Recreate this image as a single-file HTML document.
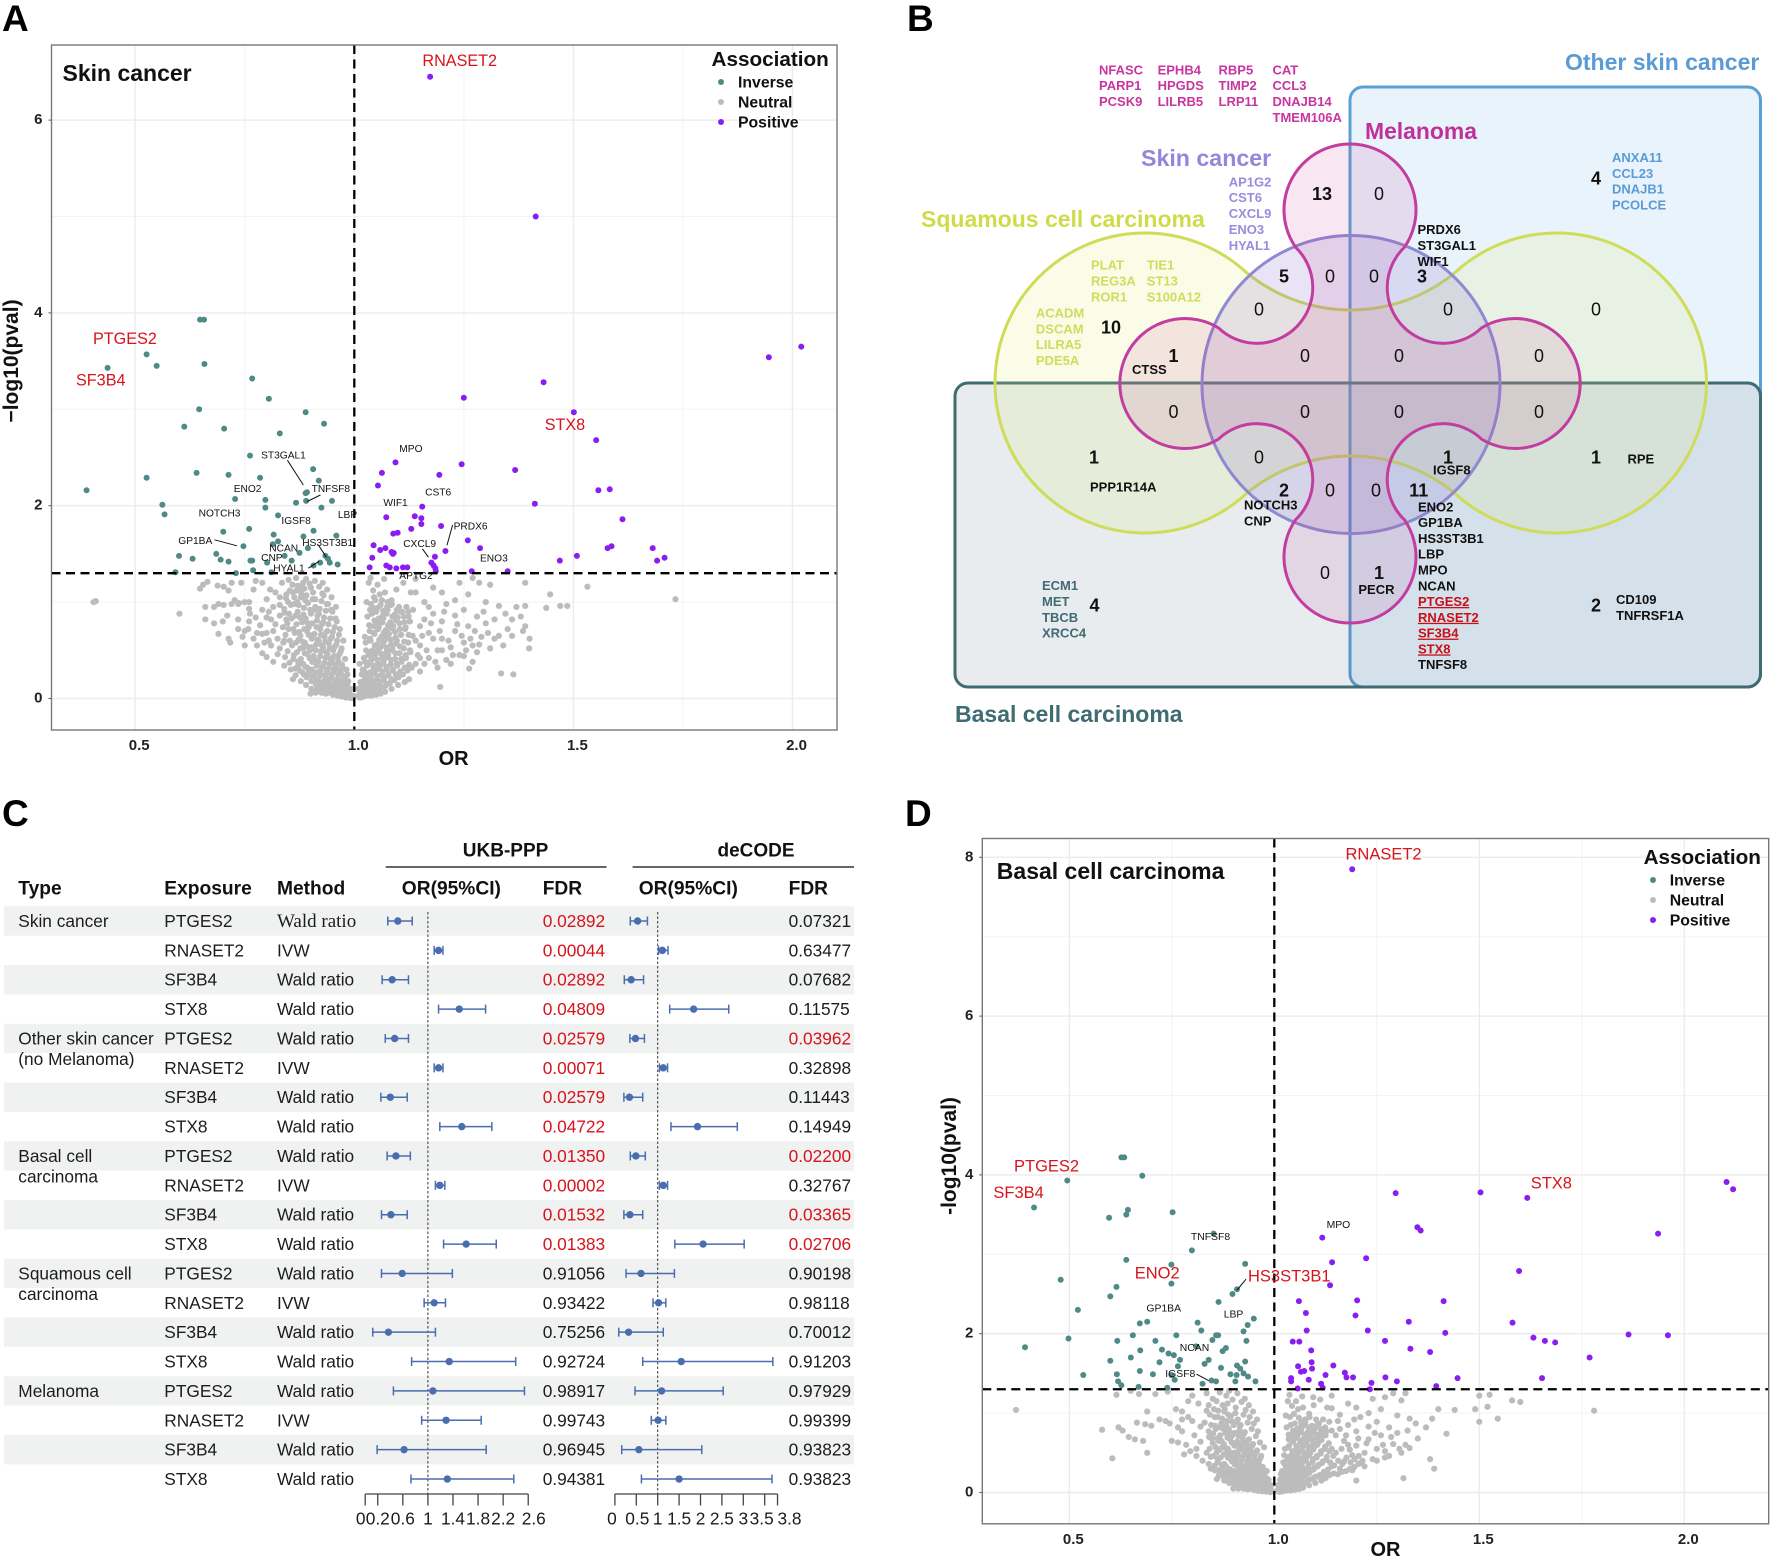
<!DOCTYPE html>
<html lang="en">
<head>
<meta charset="utf-8">
<title>Skin cancer proteome association figure</title>
<style>
html,body{margin:0;padding:0;background:#fff;}
svg{display:block;font-family:"Liberation Sans",Arial,sans-serif;}
</style>
</head>
<body>
<svg id="figure" xmlns="http://www.w3.org/2000/svg" width="1772" height="1559" viewBox="0 0 1772 1559">
<rect width="1772" height="1559" fill="#fff"/>

<g font-weight="700" font-size="37" fill="#000">
<text x="2" y="31">A</text>
<text x="907" y="31">B</text>
<text x="2" y="826">C</text>
<text x="905" y="826">D</text>
</g>

<!-- PANEL A -->
<g id="panel-a"></g>
<g>
<text x="62.5" y="81" font-size="23" font-weight="700" fill="#111">Skin cancer</text>
<g fill="#d8131b" font-size="16.2">
<text x="422.4" y="66">RNASET2</text>
<text x="93" y="344">PTGES2</text>
<text x="76" y="385.5">SF3B4</text>
<text x="544.7" y="430">STX8</text>
</g>
<g fill="#111" font-size="10.2">
<text x="261.1" y="458.7">ST3GAL1</text>
<text x="311.6" y="492">TNFSF8</text>
<text x="233.7" y="492">ENO2</text>
<text x="198.6" y="516.5">NOTCH3</text>
<text x="281.4" y="524">IGSF8</text>
<text x="337.9" y="518">LBP</text>
<text x="178.3" y="543.8">GP1BA</text>
<text x="302.2" y="545.8">HS3ST3B1</text>
<text x="269.3" y="551.3">NCAN</text>
<text x="261.1" y="561.2">CNP</text>
<text x="273.2" y="571.7">HYAL1</text>
<text x="399.3" y="451.8">MPO</text>
<text x="425.1" y="495.5">CST6</text>
<text x="383.4" y="506">WIF1</text>
<text x="453.6" y="529.4">PRDX6</text>
<text x="403.2" y="546.8">CXCL9</text>
<text x="480" y="561.7">ENO3</text>
<text x="399.3" y="579">APTG2</text>
</g>
<g stroke="#111" stroke-width="1">
<line x1="287.4" y1="460.2" x2="303.3" y2="485"/>
<line x1="320.4" y1="495" x2="307.2" y2="501.5"/>
<line x1="214.5" y1="539.8" x2="237" y2="545.8"/>
<line x1="318.2" y1="544.8" x2="326.4" y2="557.2"/>
<line x1="447" y1="545.3" x2="452.6" y2="525"/>
<line x1="422.4" y1="548.8" x2="428.4" y2="557.2"/>
<line x1="308.3" y1="568.2" x2="319.2" y2="561.2"/>
</g>
</g>

<!-- PANEL B -->
<g id="panel-b">
<rect x="1350" y="87" width="410.5" height="600" rx="13" fill="#e9f3fb" stroke="#5ca0d3" stroke-width="3"/>
<rect x="955" y="383" width="805.5" height="304" rx="13" fill="rgba(45,85,105,0.11)" stroke="#3f6b72" stroke-width="3"/>
<path d="M1247,273 A164,164 0 0 0 1454.5,273 A150,150 0 1 1 1454.5,493 A164,164 0 0 0 1247,493 A150,150 0 1 1 1247,273 Z" fill="rgba(222,235,110,0.16)" stroke="#cfdc5a" stroke-width="3"/>
<circle cx="1351" cy="384.5" r="149" fill="rgba(135,105,200,0.18)" stroke="#8f88d2" stroke-width="3"/>
<path d="M1295.5,247.2 A66,66 0 1 1 1404.5,247.2 A55,55 0 0 0 1481.5,327.9 A65,65 0 1 1 1481.5,439.1 A55,55 0 0 0 1404.5,519.8 A66,66 0 1 1 1295.5,519.8 A55,55 0 0 0 1218.5,439.1 A65,65 0 1 1 1218.5,327.9 A55,55 0 0 0 1295.5,247.2 Z" fill="rgba(200,60,150,0.12)" stroke="#c23d9f" stroke-width="3"/>

<g font-weight="700">
<text x="1565" y="70" font-size="23" fill="#5b9bd5">Other skin cancer</text>
<text x="1365" y="139" font-size="22.9" fill="#c0309a">Melanoma</text>
<text x="1141" y="166" font-size="23.2" fill="#9585dc">Skin cancer</text>
<text x="921" y="227" font-size="23" fill="#cfdc4a">Squamous cell carcinoma</text>
<text x="955" y="722" font-size="23" fill="#3f6b72">Basal cell carcinoma</text>
</g>

<g font-size="13" font-weight="700">
<g fill="#c8359f">
<text x="1099" y="74.5">NFASC</text><text x="1099" y="90.2">PARP1</text><text x="1099" y="106">PCSK9</text>
<text x="1157.6" y="74.5">EPHB4</text><text x="1157.6" y="90.2">HPGDS</text><text x="1157.6" y="106">LILRB5</text>
<text x="1218.5" y="74.5">RBP5</text><text x="1218.5" y="90.2">TIMP2</text><text x="1218.5" y="106">LRP11</text>
<text x="1272.5" y="74.5">CAT</text><text x="1272.5" y="90.2">CCL3</text><text x="1272.5" y="106">DNAJB14</text><text x="1272.5" y="121.8">TMEM106A</text>
</g>
<g fill="#9a8be0">
<text x="1228.7" y="186.4">AP1G2</text><text x="1228.7" y="202.2">CST6</text><text x="1228.7" y="218">CXCL9</text><text x="1228.7" y="233.8">ENO3</text><text x="1228.7" y="250">HYAL1</text>
</g>
<g fill="#cfdc5c">
<text x="1091" y="269.6">PLAT</text><text x="1091" y="285.5">REG3A</text><text x="1091" y="301.3">ROR1</text>
<text x="1146.8" y="269.6">TIE1</text><text x="1146.8" y="285.5">ST13</text><text x="1146.8" y="301.3">S100A12</text>
<text x="1035.9" y="317.5">ACADM</text><text x="1035.9" y="333.3">DSCAM</text><text x="1035.9" y="349.1">LILRA5</text><text x="1035.9" y="364.9">PDE5A</text>
</g>
<g fill="#5b9bd5">
<text x="1612" y="162">ANXA11</text><text x="1612" y="177.8">CCL23</text><text x="1612" y="193.6">DNAJB1</text><text x="1612" y="209.4">PCOLCE</text>
</g>
<g fill="#3f6b72">
<text x="1042" y="590.2">ECM1</text><text x="1042" y="606">MET</text><text x="1042" y="621.8">TBCB</text><text x="1042" y="637.6">XRCC4</text>
</g>
<g fill="#111">
<text x="1417.5" y="233.8">PRDX6</text><text x="1417.5" y="250">ST3GAL1</text><text x="1417.5" y="265.8">WIF1</text>
<text x="1132" y="374">CTSS</text>
<text x="1090" y="491.6">PPP1R14A</text>
<text x="1433" y="474.6">IGSF8</text>
<text x="1627.5" y="463.6">RPE</text>
<text x="1244" y="509.6">NOTCH3</text><text x="1244" y="525.6">CNP</text>
<text x="1358.4" y="594">PECR</text>
<text x="1616" y="604">CD109</text><text x="1616" y="620">TNFRSF1A</text>
<text x="1418" y="511.3">ENO2</text><text x="1418" y="527">GP1BA</text><text x="1418" y="542.9">HS3ST3B1</text><text x="1418" y="558.6">LBP</text><text x="1418" y="574.6">MPO</text><text x="1418" y="590.3">NCAN</text>
<text x="1418" y="669.2">TNFSF8</text>
</g>
<g fill="#c8101a" text-decoration="underline">
<text x="1418" y="606">PTGES2</text><text x="1418" y="621.8">RNASET2</text><text x="1418" y="637.6">SF3B4</text><text x="1418" y="653.4">STX8</text>
</g>
</g>

<g font-size="18" fill="#111" text-anchor="middle">
<g font-weight="700">
<text x="1111" y="333.5">10</text>
<text x="1596" y="184.5">4</text>
<text x="1322" y="200">13</text>
<text x="1284" y="282.5">5</text>
<text x="1422" y="282.5">3</text>
<text x="1173.5" y="362">1</text>
<text x="1094" y="463.5">1</text>
<text x="1448" y="463.5">1</text>
<text x="1596" y="463.5">1</text>
<text x="1284" y="496.5">2</text>
<text x="1418.7" y="496.5">11</text>
<text x="1379" y="579">1</text>
<text x="1094.5" y="611.5">4</text>
<text x="1596" y="611.5">2</text>
</g>
<g>
<text x="1379" y="200">0</text>
<text x="1330" y="282.5">0</text><text x="1374" y="282.5">0</text>
<text x="1259" y="315.5">0</text><text x="1448" y="315.5">0</text><text x="1596" y="315.5">0</text>
<text x="1305" y="362">0</text><text x="1399" y="362">0</text><text x="1539" y="362">0</text>
<text x="1173.5" y="418">0</text><text x="1305" y="418">0</text><text x="1399" y="418">0</text><text x="1539" y="418">0</text>
<text x="1259" y="463.5">0</text>
<text x="1330" y="496.5">0</text><text x="1376" y="496.5">0</text>
<text x="1325" y="579">0</text>
</g>
</g>
</g>

<!-- PANEL C -->
<g id="panel-c"></g>

<!-- PANEL D -->
<g id="panel-d"></g>
<g>
<text x="996.8" y="879" font-size="23" font-weight="700" fill="#111">Basal cell carcinoma</text>
<g fill="#d8131b" font-size="16.5">
<text x="1345.5" y="859.6">RNASET2</text>
<text x="1014" y="1171.4">PTGES2</text>
<text x="993.4" y="1198">SF3B4</text>
<text x="1530.7" y="1188.5">STX8</text>
<text x="1134.7" y="1278.3">ENO2</text>
<text x="1248" y="1281.7">HS3ST3B1</text>
</g>
<g fill="#111" font-size="10.4">
<text x="1326.6" y="1227.9">MPO</text>
<text x="1190.9" y="1240.2">TNFSF8</text>
<text x="1146.4" y="1311.6">GP1BA</text>
<text x="1223.7" y="1317.6">LBP</text>
<text x="1179.8" y="1351">NCAN</text>
<text x="1165.3" y="1376.9">IGSF8</text>
</g>
<g stroke="#111" stroke-width="1">
<line x1="1237" y1="1290" x2="1246" y2="1279.2"/>
<line x1="1196.4" y1="1374.1" x2="1208.7" y2="1380.7"/>
</g>
</g>
</svg>

<script>
/* ---------- Panel A data: [OR, -log10(p)] ---------- */
const inverseA = [[.437,3.43],[.526,3.57],[.549,3.45],[.648,3.93],[.657,3.93],[.658,3.47],[.767,3.32],[.805,3.11],[.646,3.0],[.612,2.82],[.703,2.8],[.889,2.97],[.931,2.85],[.83,2.75],[.762,2.52],[.64,2.34],[.526,2.29],[.713,2.32],[.785,2.29],[.906,2.38],[.919,2.26],[.389,2.16],[.889,2.13],[.892,2.14],[.728,2.07],[.797,2.06],[.797,1.98],[.89,2.05],[.867,2.03],[.925,1.98],[.949,2.05],[.562,2.01],[.567,1.91],[.826,1.9],[.76,1.76],[.701,1.73],[.907,1.74],[.959,1.69],[.816,1.7],[.884,1.68],[.826,1.63],[.814,1.6],[.747,1.58],[.894,1.56],[.6,1.48],[.685,1.5],[.631,1.45],[.695,1.44],[.713,1.42],[.763,1.43],[.767,1.43],[.801,1.41],[.841,1.48],[.875,1.51],[.857,1.43],[.934,1.48],[.94,1.45],[.944,1.41],[.962,1.39],[.922,1.41],[.907,1.38],[.769,1.33],[.73,1.3],[.592,1.31],[.811,1.31]];
const positiveA = [[1.173,6.45],[1.414,5.0],[2.02,3.65],[1.946,3.54],[1.432,3.28],[1.25,3.12],[1.501,2.97],[1.552,2.68],[1.094,2.45],[1.245,2.43],[1.367,2.37],[1.194,2.32],[1.063,2.34],[1.054,2.21],[1.557,2.16],[1.583,2.17],[1.412,2.02],[1.155,1.99],[1.073,1.88],[1.138,1.89],[1.153,1.87],[1.153,1.81],[1.612,1.86],[1.198,1.79],[1.13,1.76],[1.099,1.72],[1.089,1.71],[1.259,1.64],[1.044,1.59],[1.059,1.54],[1.071,1.56],[1.085,1.52],[1.09,1.51],[1.088,1.5],[1.287,1.56],[1.208,1.53],[1.184,1.47],[1.041,1.46],[1.578,1.56],[1.587,1.58],[1.681,1.56],[1.708,1.46],[1.691,1.43],[1.508,1.48],[1.469,1.43],[1.035,1.36],[1.073,1.38],[1.081,1.36],[1.096,1.35],[1.111,1.36],[1.121,1.36],[1.176,1.41],[1.181,1.38],[1.185,1.35],[1.186,1.32],[1.268,1.32],[1.35,1.32]];
const neutralA = [[.405,1],[.41,1.01],[.601,.88],[1.733,1.03],[1.532,1.16],[1.447,1.08],[1.486,.96],[1.47,.96],[1.438,.94],[1.399,.52],[1.335,.26],[1.363,.25],[1.196,.12],[1.262,.31],
[.648,1.14],[.655,1.18],[.665,1.21],[.688,1.17],[.702,1.16],[.713,1.12],[.69,.98],[.702,.97],[.72,.98],[.735,.98],[.737,.99],[.68,.95],[.66,.82],[.7,.8],[.735,.82],[.69,.67],[.713,.62],[.717,.58],[.75,.55],[.75,.7],[.76,.93],[.762,.88],[.775,.84],[.76,.8],[.758,.72],[.778,.68],[.79,.67],[.8,.68],[.778,.55],[.79,.47],[.8,.43],[.815,.38],[.775,1.22],[.79,1.2],[.808,1.13],[.82,1.1],[.835,1.2],[.85,1.23],[.79,.92],[.805,.9],[.8,.84],[.83,.86],[.82,.77],[.815,.7],[.84,.93],[.855,.97],[.87,1.0],[.85,.72],[.84,.6],[.83,.52],[.81,.55],[.805,.6],[.825,.46],[.84,.34],[.855,.3],[.866,.24],[.727,1.02],[.745,.64],[.77,1.13],[.742,1.2],[.83,.97],[.845,.82],[.86,1.1],
[.861,.41],[.858,.55],[.864,.68],[.857,.83],[.863,1.05],[.859,1.18],[.872,.34],[.869,.48],[.873,.61],[.868,.77],[.871,.9],[.874,1.13],[.867,1.25],[.882,.27],[.878,.41],[.884,.53],[.877,.65],[.881,.79],[.885,.94],[.879,1.09],[.883,1.2],[.891,.22],[.888,.33],[.893,.46],[.887,.58],[.892,.7],[.889,.83],[.894,.99],[.886,1.14],[.89,1.24],[.902,.18],[.897,.28],[.904,.38],[.899,.5],[.903,.62],[.896,.74],[.901,.88],[.905,1.03],[.898,1.19],[.912,.15],[.908,.24],[.914,.34],[.907,.44],[.913,.56],[.909,.67],[.915,.81],[.911,.95],[.906,1.1],[.91,1.22],[.921,.11],[.918,.2],[.923,.29],[.917,.39],[.924,.49],[.919,.6],[.922,.72],[.916,.86],[.925,1.01],[.92,1.16],[.931,.09],[.928,.16],[.933,.24],[.927,.33],[.934,.42],[.929,.53],[.932,.64],[.926,.77],[.935,.91],[.93,1.07],[.928,1.2],[.941,.06],[.938,.13],[.943,.2],[.937,.27],[.944,.36],[.939,.46],[.942,.57],[.936,.69],[.945,.83],[.94,.98],[.938,1.13],[.951,.04],[.948,.09],[.953,.15],[.947,.22],[.954,.3],[.949,.39],[.952,.5],[.946,.62],[.955,.74],[.95,.9],[.948,1.05],[.961,.03],[.958,.07],[.963,.12],[.957,.18],[.964,.25],[.959,.33],[.962,.42],[.956,.54],[.965,.66],[.96,.8],[.958,.95],[.971,.02],[.968,.05],[.973,.09],[.967,.14],[.974,.19],[.969,.26],[.972,.35],[.966,.46],[.975,.6],[.981,.01],[.978,.03],[.983,.06],[.977,.1],[.984,.15],[.979,.21],[.982,.3],[.991,.005],[.988,.015],[.993,.03],[.987,.06],[.992,.1],
[.915,.1],[.902,.1],[.89,.14],[.878,.18],[.965,.05],[.945,.1],[.925,.06],[.955,.06],[.935,.05],[.912,.06],[.9,.05],[.86,.2],
[.842,.43],[.838,.58],[.843,.66],[.837,.74],[.841,.89],[.844,1.04],[.852,.37],[.848,.49],[.853,.6],[.847,.78],[.851,.88],[.849,1.0],[.853,1.12],[.865,.31],[.862,.45],[.867,.58],[.861,.72],[.866,.86],[.863,.98],[.868,1.12],[.875,.29],[.872,.38],[.877,.52],[.874,.69],[.876,.84],[.873,.97],[.878,1.05],[.871,1.17],[.885,.25],[.883,.36],[.887,.47],[.882,.59],[.886,.72],[.884,.87],[.888,1.02],[.881,1.16],[.895,.24],[.893,.32],[.898,.42],[.892,.54],[.896,.66],[.894,.78],[.899,.92],[.891,1.07],[.905,.2],[.903,.3],[.908,.41],[.902,.53],[.906,.66],[.904,.78],[.909,.92],[.901,1.15],[.915,.18],[.913,.27],[.918,.38],[.912,.5],[.916,.61],[.914,.74],[.919,.88],[.911,1.03],[.925,.14],[.923,.24],[.928,.33],[.922,.44],[.926,.55],[.924,.66],[.929,.79],[.921,.93],[.927,1.09],[.935,.12],[.933,.19],[.938,.29],[.932,.37],[.936,.48],[.934,.59],[.939,.7],[.931,.84],[.937,.98],[.945,.08],[.943,.16],[.948,.24],[.942,.32],[.946,.41],[.944,.52],[.949,.64],[.941,.77],[.947,.92],[.955,.05],[.953,.12],[.958,.19],[.952,.27],[.956,.35],[.954,.44],[.959,.56],[.951,.69],[.957,.83],[.965,.04],[.963,.09],[.968,.15],[.962,.21],[.966,.29],[.964,.38],[.969,.49],[.961,.6],[.967,.72],[.975,.03],[.973,.07],[.978,.12],[.972,.17],[.976,.23],[.974,.31],[.979,.41],[.971,.52],[.985,.02],[.983,.05],[.988,.08],[.982,.13],[.986,.18],[.984,.25],[.995,.005],[.994,.01],[.996,.03],
[1.012,.01],[1.008,.03],[1.014,.06],[1.009,.1],[1.021,.02],[1.018,.05],[1.023,.09],[1.017,.14],[1.024,.2],[1.019,.3],[1.022,.42],[1.031,.03],[1.028,.07],[1.033,.12],[1.027,.18],[1.034,.25],[1.029,.34],[1.032,.45],[1.026,.58],[1.035,.7],[1.03,.85],[1.028,1.0],[1.033,1.2],[1.041,.05],[1.038,.1],[1.043,.16],[1.037,.23],[1.044,.31],[1.039,.4],[1.042,.5],[1.036,.62],[1.045,.75],[1.04,.88],[1.038,.98],[1.043,1.12],[1.037,1.25],[1.051,.07],[1.048,.13],[1.053,.2],[1.047,.28],[1.054,.36],[1.049,.46],[1.052,.56],[1.046,.67],[1.055,.78],[1.05,.9],[1.048,1.02],[1.053,1.18],[1.061,.1],[1.058,.17],[1.063,.25],[1.057,.33],[1.064,.43],[1.059,.53],[1.062,.64],[1.056,.74],[1.065,.86],[1.06,.97],[1.058,1.08],[1.071,.13],[1.068,.21],[1.073,.3],[1.067,.39],[1.074,.49],[1.069,.6],[1.072,.71],[1.066,.83],[1.075,.95],[1.07,1.1],[1.068,1.24],[1.081,.16],[1.078,.25],[1.083,.35],[1.077,.45],[1.084,.56],[1.079,.67],[1.082,.79],[1.076,.92],[1.085,1.02],[1.091,.19],[1.088,.3],[1.093,.41],[1.087,.52],[1.094,.63],[1.089,.75],[1.092,.87],[1.086,.98],[1.101,.22],[1.098,.34],[1.103,.47],[1.097,.6],[1.104,.72],[1.099,.84],[1.102,.95],[1.096,1.13],[1.111,.25],[1.108,.38],[1.113,.52],[1.107,.66],[1.114,.79],[1.109,.9],[1.112,1.2],[1.121,.29],[1.118,.42],[1.123,.58],[1.117,.74],[1.124,.85],[1.119,.95],[1.131,.32],[1.128,.48],[1.133,.65],[1.127,.8],[1.134,.92],[1.129,1.1],
[1.015,.01],[1.03,.05],[1.05,.04],[1.07,.07],[1.085,.1],[1.1,.14],[1.06,.05],[1.04,.03],[1.115,.17],[1.125,.2],
[1.015,.04],[1.013,.08],[1.016,.12],[1.014,.17],[1.017,.25],[1.012,.36],[1.025,.05],[1.027,.1],[1.024,.15],[1.026,.22],[1.023,.28],[1.025,.38],[1.027,.5],[1.024,.64],[1.035,.06],[1.037,.14],[1.034,.2],[1.036,.27],[1.033,.37],[1.035,.48],[1.037,.6],[1.034,.76],[1.036,.92],[1.045,.08],[1.047,.13],[1.044,.19],[1.046,.26],[1.043,.34],[1.045,.44],[1.047,.55],[1.044,.68],[1.046,.81],[1.043,.94],[1.045,1.05],[1.055,.1],[1.057,.16],[1.054,.23],[1.056,.31],[1.053,.4],[1.055,.5],[1.057,.61],[1.054,.72],[1.056,.83],[1.053,.94],[1.065,.12],[1.067,.19],[1.064,.28],[1.066,.36],[1.063,.46],[1.065,.56],[1.067,.68],[1.064,.79],[1.066,.91],[1.063,1.02],[1.075,.15],[1.077,.24],[1.074,.33],[1.076,.43],[1.073,.53],[1.075,.64],[1.077,.76],[1.074,.88],[1.076,1.0],[1.085,.2],[1.087,.29],[1.084,.4],[1.086,.5],[1.083,.61],[1.085,.73],[1.087,.85],[1.084,.97],[1.095,.25],[1.097,.36],[1.094,.47],[1.096,.57],[1.093,.69],[1.095,.81],[1.097,.92],[1.105,.28],[1.107,.41],[1.104,.54],[1.106,.66],[1.103,.78],[1.105,.9],[1.115,.32],[1.117,.45],[1.114,.59],[1.116,.72],[1.113,.85],[1.125,.35],[1.127,.5],[1.124,.66],[1.126,.8],[1.123,.9],
[1.145,.45],[1.155,.65],[1.165,.5],[1.175,.78],[1.185,.38],[1.195,.7],[1.205,.9],[1.215,.6],[1.225,.45],[1.235,.77],[1.245,.65],[1.255,.5],[1.265,.62],[1.275,.7],[1.285,.56],[1.295,.9],[1.305,.68],[1.32,.82],[1.34,.55],[1.36,.65],[1.38,.85],[1.17,.95],[1.2,.5],[1.15,.42],[.76,1.0],[.77,.62],[.785,.76],[.795,.58],[.81,.82],[.825,.62],[.735,.72],[.72,1.2],[.71,.86],[.68,.78],[.66,.95],[.83,1.05],[.75,1.0],[.8,1.03],[.815,.95],[.845,1.08],
[1.14,.36],[1.15,.55],[1.15,.75],[1.16,1.0],[1.17,.42],[1.17,.68],[1.18,.88],[1.18,1.15],[1.19,.5],[1.2,.62],[1.2,.8],[1.21,.98],[1.21,.4],[1.22,.53],[1.23,.7],[1.23,.86],[1.24,.45],[1.24,1.2],[1.25,.58],[1.25,.92],[1.26,.75],[1.27,.55],[1.27,.38],[1.28,.85],[1.29,.64],[1.3,1.0],[1.3,.78],[1.31,.52],[1.33,.96],[1.33,.65],[1.35,.72],[1.36,.82],[1.37,.95],[1.385,.7],[1.39,.75],[1.39,.96],[1.4,.62],[1.27,1.25],[1.285,1.2],[1.39,1.2],[1.15,.28],[1.16,.36],[1.19,.32],[1.22,.36],[1.18,.62],[1.14,.6],[1.16,.82],[1.14,1.1],[1.25,.44],[1.28,.48],[1.32,.62],[1.14,1.24],[1.2,1.1],[1.23,1.02],[1.26,1.08],[1.31,1.18],[1.345,.88]];

/* ---------- Panel D data: [OR, -log10(p)] ---------- */
const inverseD = [[.495,3.93],[.414,3.59],[.627,4.22],[.634,4.22],[.678,3.99],[.597,3.46],[.643,3.56],[.639,3.5],[.752,3.53],[.852,3.26],[.799,3.05],[.639,2.93],[.749,2.87],[.929,2.88],[.479,2.68],[.615,2.59],[.749,2.63],[.6,2.47],[.909,2.56],[.898,2.5],[.864,2.4],[.521,2.3],[.95,2.19],[.672,2.13],[.69,2.15],[.813,2.14],[.935,2.11],[.822,2.04],[.925,2.03],[.655,1.98],[.761,1.98],[.858,1.98],[.863,1.98],[.498,1.94],[.617,1.91],[.71,1.91],[.849,1.92],[.932,1.91],[.392,1.83],[.673,1.79],[.726,1.8],[.742,1.75],[.755,1.73],[.882,1.82],[.874,1.78],[.809,1.84],[.65,1.7],[.6,1.66],[.77,1.67],[.84,1.67],[.83,1.62],[.72,1.64],[.929,1.65],[.87,1.57],[.909,1.6],[.917,1.56],[.765,1.59],[.534,1.48],[.616,1.49],[.672,1.53],[.704,1.49],[.749,1.48],[.757,1.42],[.893,1.49],[.908,1.48],[.925,1.5],[.936,1.46],[.954,1.4],[.905,1.4],[.858,1.4],[.847,1.41],[.825,1.37],[.619,1.4],[.627,1.35],[.669,1.33],[.739,1.32]];
const positiveD = [[1.19,7.85],[2.103,3.91],[2.119,3.82],[1.296,3.77],[1.503,3.78],[1.617,3.71],[1.349,3.34],[1.357,3.3],[1.936,3.26],[1.117,3.21],[1.224,2.95],[1.141,2.9],[1.597,2.79],[1.136,2.61],[1.06,2.41],[1.202,2.42],[1.413,2.41],[1.077,2.26],[1.198,2.23],[1.328,2.15],[1.581,2.14],[1.079,2.04],[1.228,2.04],[1.417,2.01],[1.864,1.99],[1.96,1.98],[1.632,1.95],[1.66,1.91],[1.685,1.89],[1.045,1.9],[1.061,1.9],[1.27,1.91],[1.09,1.79],[1.332,1.81],[1.38,1.77],[1.769,1.7],[1.091,1.64],[1.058,1.59],[1.092,1.56],[1.073,1.53],[1.065,1.52],[1.144,1.6],[1.172,1.51],[1.125,1.48],[1.176,1.45],[1.192,1.45],[1.271,1.45],[1.447,1.44],[1.653,1.44],[1.041,1.44],[1.041,1.4],[1.084,1.42],[1.237,1.38],[1.299,1.4],[1.395,1.34],[1.114,1.37],[1.118,1.32],[1.057,1.31],[1.233,1.3]];
const neutralD = [[.37,1.04],[.58,.79],[.605,.43],[1.78,1.03],[1.545,.93],[1.52,1.08],[1.5,1.22],[1.525,1.23],[1.58,1.16],[1.6,1.14],[1.5,.89],[1.49,1.05],[1.44,1.04],[1.4,1.05],[1.42,.74],[1.39,.3],[1.38,.42],[1.315,.18],[1.2,.15],
[.615,1.23],[.65,1.28],[.67,1.24],[.71,1.24],[.74,1.27],[.62,.82],[.63,.78],[.645,.7],[.66,.67],[.68,.65],[.69,.5],[.665,.88],[.685,.86],[.7,.84],[.69,1.02],[.72,.92],[.735,.9],[.745,.87],[.75,.65],[.765,.63],[.76,1.05],[.775,1.02],[.79,.95],[.8,.9],[.775,.77],[.765,.82],[.785,.6],[.78,.48],[.795,.52],[.81,.46],[.82,.64],[.805,.72],[.82,.83],[.83,.88],[.84,.77],[.79,1.15],[.8,1.22],[.815,1.12],[.835,1.25],[.85,1.18],[.835,1.03],[.855,.95],[.85,.62],[.835,.5],[.84,.36],[.825,.4],[.855,.28],[.845,.3],[.81,.55],[.865,.22],[.875,.2],[.775,.92],[.84,1.1],
[.862,.38],[.859,.5],[.864,.65],[.857,.8],[.863,1.03],[.859,1.15],[.872,.3],[.869,.44],[.873,.57],[.868,.72],[.871,.87],[.874,1.1],[.867,1.26],[.882,.24],[.878,.36],[.884,.49],[.877,.61],[.881,.75],[.885,.9],[.879,1.05],[.883,1.22],[.891,.19],[.888,.3],[.893,.42],[.887,.55],[.892,.67],[.889,.8],[.894,.96],[.886,1.12],[.89,1.28],[.902,.16],[.897,.25],[.904,.35],[.899,.47],[.903,.59],[.896,.71],[.901,.85],[.905,1.0],[.898,1.17],[.912,.12],[.908,.21],[.914,.31],[.907,.42],[.913,.53],[.909,.64],[.915,.78],[.911,.92],[.906,1.07],[.91,1.25],[.921,.09],[.918,.18],[.923,.27],[.917,.36],[.924,.46],[.919,.57],[.922,.69],[.916,.83],[.925,.98],[.92,1.14],[.931,.07],[.928,.14],[.933,.21],[.927,.3],[.934,.39],[.929,.5],[.932,.61],[.926,.74],[.935,.88],[.93,1.04],[.928,1.18],[.941,.05],[.938,.11],[.943,.18],[.937,.25],[.944,.33],[.939,.43],[.942,.54],[.936,.66],[.945,.8],[.94,.95],[.938,1.1],[.951,.03],[.948,.08],[.953,.13],[.947,.2],[.954,.27],[.949,.36],[.952,.47],[.946,.59],[.955,.71],[.95,.87],[.948,1.02],[.961,.02],[.958,.06],[.963,.1],[.957,.16],[.964,.22],[.959,.3],[.962,.39],[.956,.51],[.965,.63],[.96,.77],[.958,.92],[.971,.015],[.968,.04],[.973,.08],[.967,.12],[.974,.17],[.969,.24],[.972,.32],[.966,.43],[.975,.57],[.981,.01],[.978,.025],[.983,.05],[.977,.09],[.984,.13],[.979,.19],[.982,.27],[.991,.004],[.988,.012],[.993,.025],[.987,.05],[.992,.09],
[.915,.08],[.902,.09],[.89,.12],[.878,.15],[.965,.04],[.945,.08],[.925,.05],[.955,.05],[.935,.04],[.912,.05],[.9,.05],[.86,.17],
[.845,.45],[.842,.55],[.847,.68],[.841,.7],[.846,.85],[.843,.98],[.855,.34],[.852,.46],[.857,.57],[.851,.74],[.856,.84],[.853,1.05],[.865,.28],[.862,.42],[.867,.54],[.861,.68],[.866,.82],[.863,.95],[.875,.26],[.872,.35],[.877,.48],[.871,.65],[.876,.8],[.873,.93],[.878,1.02],[.885,.22],[.882,.33],[.887,.44],[.881,.56],[.886,.69],[.883,.84],[.888,.98],[.895,.21],[.892,.29],[.897,.39],[.891,.51],[.896,.63],[.893,.75],[.898,.89],[.905,.18],[.902,.27],[.907,.38],[.901,.5],[.906,.62],[.903,.75],[.908,.89],[.915,.15],[.912,.24],[.917,.35],[.911,.47],[.916,.58],[.913,.71],[.918,.85],[.925,.12],[.922,.21],[.927,.3],[.921,.41],[.926,.52],[.923,.63],[.928,.76],[.935,.1],[.932,.17],[.937,.26],[.931,.34],[.936,.45],[.933,.56],[.938,.67],[.945,.07],[.942,.14],[.947,.21],[.941,.29],[.946,.38],[.943,.49],[.948,.61],[.955,.04],[.952,.1],[.957,.17],[.951,.24],[.956,.32],[.953,.41],[.958,.53],[.965,.03],[.962,.08],[.967,.13],[.961,.19],[.966,.26],[.963,.35],[.968,.46],[.975,.02],[.972,.06],[.977,.1],[.971,.15],[.976,.21],[.973,.28],[.985,.015],[.983,.04],[.987,.07],[.982,.11],[.986,.16],
[1.012,.008],[1.008,.025],[1.014,.05],[1.009,.09],[1.021,.015],[1.018,.04],[1.023,.08],[1.017,.12],[1.024,.18],[1.019,.27],[1.022,.38],[1.031,.025],[1.028,.06],[1.033,.1],[1.027,.16],[1.034,.23],[1.029,.31],[1.032,.42],[1.026,.55],[1.035,.67],[1.03,.82],[1.028,.97],[1.033,1.15],[1.041,.04],[1.038,.09],[1.043,.14],[1.037,.21],[1.044,.29],[1.039,.37],[1.042,.47],[1.036,.59],[1.045,.72],[1.04,.85],[1.038,.95],[1.043,1.09],[1.037,1.23],[1.051,.06],[1.048,.11],[1.053,.18],[1.047,.26],[1.054,.33],[1.049,.43],[1.052,.53],[1.046,.64],[1.055,.75],[1.05,.87],[1.048,.99],[1.053,1.15],[1.061,.08],[1.058,.15],[1.063,.23],[1.057,.3],[1.064,.4],[1.059,.5],[1.062,.61],[1.056,.71],[1.065,.83],[1.06,.94],[1.058,1.05],[1.071,.11],[1.068,.19],[1.073,.27],[1.067,.36],[1.074,.46],[1.069,.57],[1.072,.68],[1.066,.8],[1.075,.92],[1.07,1.07],[1.068,1.21],[1.081,.14],[1.078,.22],[1.083,.32],[1.077,.42],[1.084,.53],[1.079,.64],[1.082,.76],[1.076,.89],[1.085,.99],[1.091,.17],[1.088,.27],[1.093,.38],[1.087,.49],[1.094,.6],[1.089,.72],[1.092,.84],[1.086,.95],[1.095,1.2],[1.101,.2],[1.098,.31],[1.103,.44],[1.097,.57],[1.104,.69],[1.099,.81],[1.102,.92],[1.096,1.1],[1.111,.22],[1.108,.35],[1.113,.49],[1.107,.63],[1.114,.76],[1.109,.87],[1.112,1.17],[1.121,.26],[1.118,.39],[1.123,.55],[1.117,.71],[1.124,.82],[1.119,.92],[1.131,.29],[1.128,.45],[1.133,.62],[1.127,.77],[1.134,.89],[1.129,1.07],
[1.015,.012],[1.03,.045],[1.05,.035],[1.07,.06],[1.085,.09],[1.1,.12],[1.06,.045],[1.04,.025],[1.115,.15],[1.125,.18],
[1.016,.03],[1.013,.07],[1.015,.11],[1.014,.16],[1.016,.23],[1.025,.04],[1.026,.09],[1.024,.13],[1.025,.2],[1.023,.26],[1.026,.35],[1.024,.47],[1.035,.05],[1.036,.12],[1.034,.18],[1.035,.25],[1.033,.34],[1.036,.45],[1.034,.57],[1.035,.73],[1.045,.07],[1.046,.12],[1.044,.17],[1.045,.24],[1.043,.31],[1.046,.41],[1.044,.52],[1.045,.65],[1.046,.78],[1.055,.09],[1.056,.14],[1.054,.21],[1.055,.29],[1.053,.37],[1.056,.47],[1.054,.58],[1.055,.69],[1.056,.8],[1.065,.1],[1.066,.17],[1.064,.25],[1.065,.33],[1.063,.43],[1.066,.53],[1.064,.65],[1.065,.76],[1.066,.88],[1.075,.13],[1.076,.21],[1.074,.3],[1.075,.4],[1.073,.5],[1.076,.61],[1.074,.73],[1.075,.85],[1.085,.16],[1.086,.25],[1.084,.36],[1.085,.47],[1.083,.58],[1.086,.7],[1.084,.82],[1.095,.18],[1.096,.29],[1.094,.42],[1.095,.54],[1.093,.66],[1.096,.78],[1.105,.2],[1.106,.33],[1.104,.46],[1.105,.6],[1.103,.73],[1.106,.86],[1.115,.22],[1.116,.37],[1.114,.52],[1.115,.66],[1.113,.8],[1.125,.24],[1.126,.41],[1.124,.58],[1.125,.72],[1.135,.22],[1.136,.38],[1.134,.52],[1.145,.24],[1.146,.34],[1.144,.46],[1.155,.23],[1.156,.4],[1.165,.26],[1.166,.36],[1.164,.55],[1.175,.27],[1.176,.44],[1.185,.3],[1.186,.38],[1.184,.54],[1.195,.32],[1.196,.42],[1.205,.36],[1.206,.46],[1.215,.4],
[1.14,.33],[1.15,.5],[1.15,.72],[1.16,.98],[1.17,.39],[1.17,.65],[1.18,.85],[1.18,1.12],[1.19,.47],[1.2,.59],[1.2,.77],[1.21,.95],[1.21,.37],[1.22,.5],[1.23,.67],[1.23,.83],[1.24,.42],[1.24,1.18],[1.25,.55],[1.25,.89],[1.26,.72],[1.27,.52],[1.27,.44],[1.28,.82],[1.29,.61],[1.3,.97],[1.3,.75],[1.31,.5],[1.33,.93],[1.33,.56],[1.35,.68],[1.37,.82],[1.385,.93],[1.14,.55],[1.16,.3],[1.19,.28],[1.22,.33],[1.18,.6],[1.14,.78],[1.16,.8],[1.14,1.06],[1.25,.4],[1.28,.46],[1.32,.6],[1.14,1.22],[1.2,1.07],[1.23,1],[1.26,1.05],[1.31,1.16],[1.345,.87],[1.27,1.2],[1.29,1.25],[1.32,1.25],[1.225,.62],[1.245,.75],[1.265,.6],[1.285,.7],[1.305,.55],[1.325,.78],[1.175,.72],[1.205,.68],[1.155,.9],[1.195,.92]];

/* ---------- Panel A / D tick labels ---------- */
const orMajorTicks = [0.5, 1.0, 1.5, 2.0];
const orMinorTicks = [0.75, 1.25, 1.75];
const pMajorTicksA = [0, 2, 4, 6];
const pMinorTicksA = [1, 3, 5];
const pMajorTicksD = [0, 2, 4, 6, 8];
const pMinorTicksD = [1, 3, 5, 7];
const legendEntries = ['Inverse', 'Neutral', 'Positive'];
const pThreshold = 1.3;
const orReference = 1.0;

/* ---------- Panel C data ---------- */
const forestTypes = ['Skin cancer','Other skin cancer','Basal cell','Squamous cell','Melanoma'];
const forestExposures = ['PTGES2','RNASET2','SF3B4','STX8','PTGES2','RNASET2','SF3B4','STX8','PTGES2','RNASET2','SF3B4','STX8','PTGES2','RNASET2','SF3B4','STX8','PTGES2','RNASET2','SF3B4','STX8'];
const forestMethods = ['Wald ratio','IVW','Wald ratio','Wald ratio','Wald ratio','IVW','Wald ratio','Wald ratio','Wald ratio','IVW','Wald ratio','Wald ratio','Wald ratio','IVW','Wald ratio','Wald ratio','Wald ratio','IVW','Wald ratio','Wald ratio'];
const ukbMean = [.52,1.17,.43,1.5,.47,1.17,.4,1.54,.49,1.19,.41,1.61,.59,1.1,.37,1.34,1.08,1.29,.62,1.31];
const ukbLow = [.36,1.1,.27,1.17,.32,1.1,.25,1.19,.35,1.12,.26,1.25,.26,.94,.12,.74,.45,.9,.19,.73];
const ukbHigh = [.75,1.24,.69,1.92,.69,1.24,.67,2.02,.72,1.27,.67,2.09,1.39,1.28,1.12,2.4,2.54,1.85,1.93,2.37];
const ukbFdr = ['0.02892','0.00044','0.02892','0.04809','0.02579','0.00071','0.02579','0.04722','0.01350','0.00002','0.01532','0.01383','0.91056','0.93422','0.75256','0.92724','0.98917','0.99743','0.96945','0.94381'];
const decodeMean = [.53,1.11,.38,1.84,.48,1.13,.34,1.93,.49,1.13,.35,2.06,.61,1.02,.32,1.55,1.09,1.01,.56,1.5];
const decodeLow = [.36,1.02,.22,1.28,.35,1.04,.21,1.31,.36,1.04,.21,1.4,.26,.89,.09,.65,.47,.85,.16,.62];
const decodeHigh = [.76,1.24,.67,2.66,.69,1.23,.65,2.86,.71,1.23,.65,3.02,1.39,1.19,1.13,3.69,2.53,1.19,2.03,3.67];
const decodeFdr = ['0.07321','0.63477','0.07682','0.11575','0.03962','0.32898','0.11443','0.14949','0.02200','0.32767','0.03365','0.02706','0.90198','0.98118','0.70012','0.91203','0.97929','0.99399','0.93823','0.93823'];
const ukbTicks = [0,0.2,0.6,1,1.4,1.8,2.2,2.6];
const decodeTicks = [0,0.5,1,1.5,2,2.5,3,3.5,3.8];

const SVGNS = 'http://www.w3.org/2000/svg';
function make(tag, attrs, parent, txt) {
  const el = document.createElementNS(SVGNS, tag);
  for (const k in attrs) el.setAttribute(k, attrs[k]);
  if (txt !== undefined) el.textContent = txt;
  parent.appendChild(el);
  return el;
}
const INVERSE = '#4f8a87', NEUTRAL = '#bcbcbc', POSITIVE = '#8a1df0';

function drawVolcano(root, cfg, neutral, inverse, positive, pMajor, pMinor) {
  const xOf = or => cfg.x0 + (or - 1) * cfg.xScale;
  const yOf = p => cfg.y0 - p * cfg.yScale;
  const bg = make('rect', {x: cfg.left, y: cfg.top, width: cfg.right - cfg.left, height: cfg.bottom - cfg.top, fill: '#fff'}, root);
  
  
  orMinorTicks.forEach(v => {
    const l = make('line', {x1: xOf(v), x2: xOf(v), y1: cfg.top, y2: cfg.bottom, stroke: '#f3f3f3', 'stroke-width': 1}, root);
    
    
  });
  pMinor.forEach(v => {
    const l = make('line', {x1: cfg.left, x2: cfg.right, y1: yOf(v), y2: yOf(v), stroke: '#f3f3f3', 'stroke-width': 1}, root);
    
    
  });
  orMajorTicks.forEach(v => {
    const l = make('line', {x1: xOf(v), x2: xOf(v), y1: cfg.top, y2: cfg.bottom, stroke: '#ececec', 'stroke-width': 1.4}, root);
    
    
    const t = make('text', {x: xOf(v) + cfg.xLabelShift, y: cfg.xLabelY, 'text-anchor': 'middle', 'font-size': 15, 'font-weight': 700, fill: '#222'}, root, v.toFixed(1));
    
    
  });
  pMajor.forEach(v => {
    const l = make('line', {x1: cfg.left, x2: cfg.right, y1: yOf(v), y2: yOf(v), stroke: '#ececec', 'stroke-width': 1.4}, root);
    
    
    const tk = make('line', {x1: cfg.left - 3, x2: cfg.left, y1: yOf(v), y2: yOf(v), stroke: '#555', 'stroke-width': 1}, root);
    
    
    const t = make('text', {x: cfg.left - 9, y: yOf(v) + 4, 'text-anchor': 'end', 'font-size': 15, 'font-weight': 700, fill: '#222'}, root, String(v));
    
    
  });
  neutral.forEach(d => {
    const c = make('circle', {cx: xOf(d[0]), cy: yOf(d[1]), r: cfg.r + 0.1, fill: NEUTRAL}, root);
    
    
  });
  inverse.forEach(d => {
    const c = make('circle', {cx: xOf(d[0]), cy: yOf(d[1]), r: cfg.r, fill: INVERSE}, root);
    
    
  });
  positive.forEach(d => {
    const c = make('circle', {cx: xOf(d[0]), cy: yOf(d[1]), r: cfg.r, fill: POSITIVE}, root);
    
    
  });
  const hl = make('line', {x1: cfg.left, x2: cfg.right, y1: yOf(pThreshold), y2: yOf(pThreshold), stroke: '#000', 'stroke-width': 2.3, 'stroke-dasharray': '9 5.5'}, root);
  
  
  const vl = make('line', {x1: xOf(orReference), x2: xOf(orReference), y1: cfg.top, y2: cfg.bottom, stroke: '#000', 'stroke-width': 2.3, 'stroke-dasharray': '9 5.5'}, root);
  
  
  const border = make('rect', {x: cfg.left, y: cfg.top, width: cfg.right - cfg.left, height: cfg.bottom - cfg.top, fill: 'none', stroke: '#777', 'stroke-width': 1.4}, root);
  
  
  const xt = make('text', {x: cfg.xTitleX, y: cfg.xTitleY, 'text-anchor': 'middle', 'font-size': 20, 'font-weight': 700, fill: '#111'}, root, 'OR');
  
  
  const yt = make('text', {transform: 'translate(' + cfg.yTitleX + ' ' + cfg.yTitleY + ') rotate(-90)', 'text-anchor': 'middle', 'font-size': 21, 'font-weight': 700, fill: '#111'}, root, cfg.yTitle);
  
  
  const lt = make('text', {x: cfg.legendTitleX, y: cfg.legendTitleY, 'font-size': 20.7, 'font-weight': 700, fill: '#111'}, root, 'Association');
  
  
  const colors = [INVERSE, NEUTRAL, POSITIVE];
  legendEntries.forEach((name, i) => {
    const y = cfg.legendY + i * 20;
    const dot = make('circle', {cx: cfg.legendDotX, cy: y, r: cfg.r, fill: colors[i]}, root);
    
    
    const t = make('text', {x: cfg.legendTextX, y: y + 5.5, 'font-size': 15.8, 'font-weight': 700, fill: '#111'}, root, name);
    
    
  });
}

drawVolcano(document.getElementById('panel-a'), {
  left: 51.5, right: 837, top: 45, bottom: 730, x0: 354.3, xScale: 438.2, y0: 698.5, yScale: 96.4, r: 3,
  xLabelShift: 4, xLabelY: 750, xTitleX: 453.6, xTitleY: 765, yTitleX: 18, yTitleY: 361, yTitle: '\u2212log10(pval)',
  legendTitleX: 711.5, legendTitleY: 66, legendY: 82, legendDotX: 721, legendTextX: 738
}, neutralA, inverseA, positiveA, pMajorTicksA, pMinorTicksA);

drawVolcano(document.getElementById('panel-d'), {
  left: 982.3, right: 1768.7, top: 838.5, bottom: 1523.8, x0: 1274.3, xScale: 410, y0: 1492.5, yScale: 79.4, r: 3,
  xLabelShift: 4, xLabelY: 1544, xTitleX: 1385.5, xTitleY: 1556, yTitleX: 956, yTitleY: 1156, yTitle: '-log10(pval)',
  legendTitleX: 1643.6, legendTitleY: 864, legendY: 880, legendDotX: 1653, legendTextX: 1669.7
}, neutralD, inverseD, positiveD, pMajorTicksD, pMinorTicksD);

/* ---------- Panel C drawing ---------- */
(function () {
  const root = document.getElementById('panel-c');
  const rowY = i => 921 + i * 29.37;
  const ukbX = v => 365.2 + v * 62.7;
  const decX = v => 614.9 + v * 42.8;
  const FS = 17.3, BLUE = '#4a6db0', RED = '#d8131b', TXT = '#1c1c1c';

  forestExposures.forEach((_, i) => {
    if (i % 2 === 0) {
      const s = make('rect', {x: 4, y: rowY(i) - 14.7, width: 850, height: 29.4, fill: '#f0f2f1'}, root);
      
      
    }
  });
  [[462.8, 850.5, 'UKB-PPP'], [717.5, 850.5, 'deCODE']].forEach(h => {
    const t = make('text', {x: h[0], y: h[1] + 6, 'font-size': 19, 'font-weight': 700, fill: '#111'}, root, h[2]);
    
    
  });
  [[385.7, 606.5], [632.6, 854]].forEach(s => {
    const l = make('line', {x1: s[0], x2: s[1], y1: 867, y2: 867, stroke: '#333', 'stroke-width': 1.4}, root);
    
    
  });
  [[18.3, 'Type'], [164.3, 'Exposure'], [277, 'Method'], [401.8, 'OR(95%CI)'], [542.7, 'FDR'], [638.7, 'OR(95%CI)'], [788.6, 'FDR']].forEach(h => {
    const t = make('text', {x: h[0], y: 894.5, 'font-size': 19.2, 'font-weight': 700, fill: '#111'}, root, h[1]);
    
    
  });
  forestTypes.forEach((name, i) => {
    const t = make('text', {x: 18.3, y: rowY(i * 4) + 6, 'font-size': FS, fill: TXT}, root, name);
    
    
  });
  [[1, '(no Melanoma)'], [2, 'carcinoma'], [3, 'carcinoma']].forEach(s => {
    const t = make('text', {x: 18.3, y: rowY(s[0] * 4) + 26.6, 'font-size': FS, fill: TXT}, root, s[1]);
    
    
  });

  function refLine(x) {
    const l = make('line', {x1: x, x2: x, y1: 912, y2: 1494, stroke: '#333', 'stroke-width': 1, 'stroke-dasharray': '2.5 2'}, root);
    
    
  }
  refLine(ukbX(1));
  refLine(decX(1));

  function forestRow(xf, lo, mean, hi, y, name) {
    const l = make('line', {x1: xf(lo), x2: xf(hi), y1: y, y2: y, stroke: BLUE, 'stroke-width': 1.5}, root);
    
    
    const c1 = make('line', {x1: xf(lo), x2: xf(lo), y1: y - 4.5, y2: y + 4.5, stroke: BLUE, 'stroke-width': 1.5}, root);
    
    
    const c2 = make('line', {x1: xf(hi), x2: xf(hi), y1: y - 4.5, y2: y + 4.5, stroke: BLUE, 'stroke-width': 1.5}, root);
    
    
    const d = make('circle', {cx: xf(mean), cy: y, r: 3.7, fill: BLUE}, root);
    
    
  }

  forestExposures.forEach((exp, i) => {
    const y = rowY(i), base = y + 6;
    const e = make('text', {x: 164.3, y: base, 'font-size': FS, fill: TXT}, root, exp);
    
    
    const attrs = {x: 277, y: base, 'font-size': FS, fill: TXT};
    if (i === 0) { attrs['font-family'] = '"Liberation Serif", serif'; attrs['font-size'] = 19; }
    const m = make('text', attrs, root, forestMethods[i]);
    
    
    const f1 = make('text', {x: 542.7, y: base, 'font-size': FS, fill: parseFloat(ukbFdr[i]) < 0.05 ? RED : TXT}, root, ukbFdr[i]);
    
    
    const f2 = make('text', {x: 788.6, y: base, 'font-size': FS, fill: parseFloat(decodeFdr[i]) < 0.05 ? RED : TXT}, root, decodeFdr[i]);
    
    
    forestRow(ukbX, ukbLow[i], ukbMean[i], ukbHigh[i], y, 'ukb');
    forestRow(decX, decodeLow[i], decodeMean[i], decodeHigh[i], y, 'decode');
  });

  function forestAxis(xf, ticks, name, labelNudge) {
    const a = make('line', {x1: xf(ticks[0]), x2: xf(ticks[ticks.length - 1]), y1: 1494, y2: 1494, stroke: '#444', 'stroke-width': 1.3}, root);
    
    
    ticks.forEach((v, i) => {
      const k = make('line', {x1: xf(v), x2: xf(v), y1: 1494, y2: 1505.5, stroke: '#444', 'stroke-width': 1.3}, root);
      
      
      const t = make('text', {x: xf(v) + labelNudge(i, ticks.length), y: 1524.5, 'text-anchor': 'middle', 'font-size': FS, fill: TXT}, root, String(v));
      
      
    });
  }
  forestAxis(ukbX, ukbTicks, 'ukb', (i, n) => i === 0 ? -4.5 : (i === n - 1 ? 5.5 : 0));
  forestAxis(decX, decodeTicks, 'decode', (i, n) => i === 0 ? -3 : (i === 1 ? 1 : (i === n - 2 ? -3 : (i === n - 1 ? 12 : 0))));
})();
</script>
</body>
</html>
